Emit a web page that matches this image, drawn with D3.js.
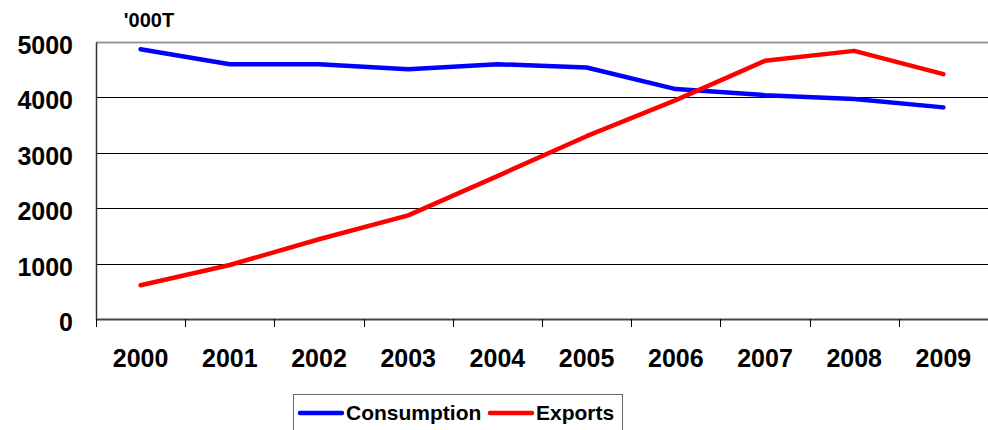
<!DOCTYPE html>
<html><head><meta charset="utf-8">
<script src="https://cdn.jsdelivr.net/npm/d3@7"></script>
<style>body{margin:0;background:#fff}svg{display:block;font-family:"Liberation Sans",Arial,sans-serif;font-weight:bold}</style>
</head><body>
<script>
const years = ["2000","2001","2002","2003","2004","2005","2006","2007","2008","2009"];
const consumption = [4870,4600,4600,4510,4600,4540,4150,4040,3970,3820];
const exports_ = [610,975,1440,1870,2580,3300,3950,4660,4840,4420];
const yTicks = [0,1000,2000,3000,4000,5000];
const unitLabel = "'000T";
const seriesNames = ["Consumption","Exports"];
const colors = ["#0000ff","#ff0000"];

const W=988,H=430;
const m={l:96,r:0,t:42,b:111};
const FF="Liberation Sans, Arial, sans-serif";
const svg=d3.select("body").append("svg").attr("width",W).attr("height",H);
const x=d3.scaleBand().domain(years).range([m.l,W-m.r]);
const y=d3.scaleLinear().domain([0,5000]).range([H-m.b,m.t]);

// gridlines
svg.append("g").selectAll("line").data(yTicks.filter(d=>d>0)).join("line")
 .attr("x1",m.l).attr("x2",W-m.r).attr("y1",d=>Math.round(y(d))+0.5).attr("y2",d=>Math.round(y(d))+0.5)
 .attr("stroke",d=>d===5000?"#999":"#000").attr("stroke-width",d=>d===5000?2:1);

// y axis
const ya=svg.append("g").attr("transform",`translate(${m.l},0)`)
 .call(d3.axisLeft(y).tickValues(yTicks).tickFormat(d3.format("d")).tickSize(0).tickPadding(23));
ya.attr("font-size",null).attr("font-family",null);
ya.select(".domain").attr("stroke","#333").attr("stroke-width",1.5);
ya.selectAll("text").style("font-size","25px").style("font-weight","bold").attr("fill","#000")
 .style("font-family",FF).attr("dy","0.46em");

// x axis
const xa=svg.append("g").attr("transform",`translate(0,${y(0)})`)
 .call(d3.axisBottom(x).tickSize(0).tickPadding(30));
xa.attr("font-size",null).attr("font-family",null);
xa.select(".domain").attr("stroke","#444").attr("stroke-width",2);
xa.selectAll("text").style("font-size","25px").style("font-weight","bold").attr("fill","#000")
 .style("font-family",FF);
svg.append("g").selectAll("line").data(years).join("line")
 .attr("x1",d=>Math.round(x(d))+0.5).attr("x2",d=>Math.round(x(d))+0.5)
 .attr("y1",y(0)).attr("y2",y(0)+8).attr("stroke","#000").attr("stroke-width",1);

svg.append("text").attr("x",149).attr("y",27).attr("text-anchor","middle")
 .style("font-size","20px").text(unitLabel);

const line=d3.line().x((d,i)=>x(years[i])+x.bandwidth()/2).y(d=>y(d));
[consumption,exports_].forEach((s,i)=>{
 svg.append("path").datum(s).attr("d",line).attr("fill","none")
  .attr("stroke",colors[i]).attr("stroke-width",4.5).attr("stroke-linecap","round").attr("stroke-linejoin","round");
});

// legend
const lg=svg.append("g");
lg.append("rect").attr("x",293.5).attr("y",394.5).attr("width",329).attr("height",40)
 .attr("fill","#fff").attr("stroke","#666").attr("stroke-width",1);
const lx=[300,490];
seriesNames.forEach((n,i)=>{
 lg.append("line").attr("x1",lx[i]).attr("x2",lx[i]+42).attr("y1",413).attr("y2",413)
  .attr("stroke",colors[i]).attr("stroke-width",4.5).attr("stroke-linecap","round");
 lg.append("text").attr("x",lx[i]+46).attr("y",420).style("font-size","21px").text(n);
});
</script>
</body></html>
